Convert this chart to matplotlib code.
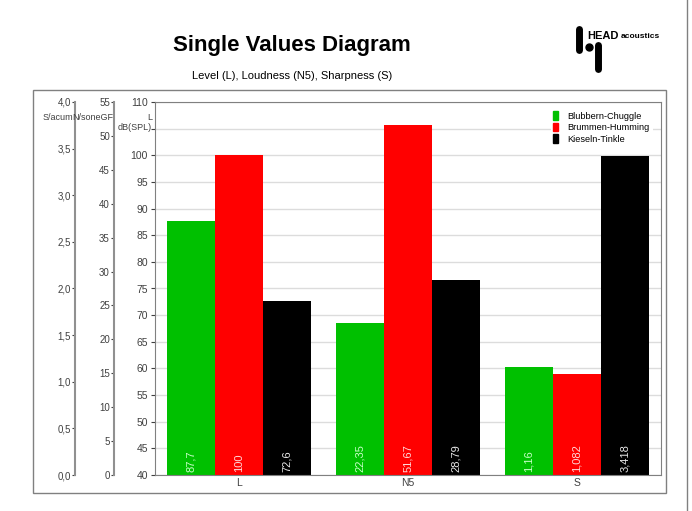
import numpy as np
import matplotlib
matplotlib.use('Agg')
import matplotlib.pyplot as plt
from matplotlib.lines import Line2D
from matplotlib.patches import Rectangle, Patch

plt.rcParams['font.family'] = ['Liberation Sans', 'DejaVu Sans']

# データ
categories = ['L', 'N5', 'S']
series_names = ['Blubbern-Chuggle', 'Brummen-Humming', 'Kieseln-Tinkle']
level_db = [87.7, 100, 72.6]          # dB(SPL)
loudness_sone = [22.35, 51.67, 28.79]  # sone
sharpness_acum = [1.16, 1.082, 3.418]  # acum
series_colors = ['#00c000', '#ff0000', '#000000']
label_colors = ['#c8ffc8', '#ffd8d8', '#e8e8e8']

# 軸範囲
db_range = (40, 110)
sone_max = 55
acum_max = 4.0

W, H = 692, 511
fig = plt.figure(figsize=(W / 100, H / 100), dpi=100)

def fx(px):
    return px / W

def fy(py):
    return 1 - py / H

# 外枠
fig.add_artist(Rectangle((fx(33), fy(493)), fx(666) - fx(33), fy(90) - fy(493),
                         transform=fig.transFigure, fill=False, edgecolor='#808080', lw=1))
fig.add_artist(Line2D([fx(687), fx(687)], [0, 1], transform=fig.transFigure,
                      color='#808080', lw=1))

# メイン軸
left, right, top, bottom = 155, 661, 102, 475
ax = fig.add_axes([fx(left), fy(bottom), fx(right) - fx(left), fy(top) - fy(bottom)])

def to_db(v, vmax):
    return db_range[0] + v / vmax * (db_range[1] - db_range[0])

heights = np.array([
    level_db,
    [to_db(v, sone_max) for v in loudness_sone],
    [to_db(v, acum_max) for v in sharpness_acum],
])
raw = [level_db, loudness_sone, sharpness_acum]

x = np.arange(len(categories))
width = 0.285
for j, name in enumerate(series_names):
    xs = x + (j - 1) * width
    ax.bar(xs, heights[:, j] - db_range[0], bottom=db_range[0], width=width,
           color=series_colors[j], label=name, zorder=3)
    for i in range(len(categories)):
        txt = f'{raw[i][j]:g}'.replace('.', ',')
        ax.text(xs[i], db_range[0] + 0.5, txt, rotation=90, ha='center', va='bottom',
                fontsize=8, color=label_colors[j], zorder=4)

ax.set_xlim(-0.5, 2.5)
ax.set_ylim(*db_range)
ax.set_xticks(x)
ax.set_xticklabels(categories)
db_ticks = np.arange(40, 111, 5)
ax.set_yticks(db_ticks)
# 105 の位置には単位が入る
ax.set_yticklabels(['' if t == 105 else f'{t}' for t in db_ticks])
ax.grid(axis='y', color='#dcdcdc', lw=1, zorder=0)
ax.tick_params(axis='both', labelsize=7.5, colors='#404040', length=3, pad=2)
ax.tick_params(axis='x', length=0, pad=2)
for s in ax.spines.values():
    s.set_color('#808080')
    s.set_zorder(6)

# 追加の縦軸 (sone, acum)
def extra_axis(px, vmax, ticks, fmt):
    a = ax.twinx()
    a.set_ylim(0, vmax)
    a.spines['left'].set_position(('axes', (px - left) / (right - left)))
    a.spines['left'].set_visible(True)
    a.spines['left'].set_color('#909090')
    a.spines['left'].set_linewidth(1.5)
    for k in ['right', 'top', 'bottom']:
        a.spines[k].set_visible(False)
    a.yaxis.set_ticks_position('left')
    a.yaxis.set_label_position('left')
    a.set_yticks(ticks)
    a.set_yticklabels([fmt(t) for t in ticks])
    a.tick_params(axis='y', labelsize=7, colors='#404040', length=2, pad=1)
    return a

extra_axis(114, sone_max, np.arange(0, 56, 5), lambda t: f'{t:g}')
extra_axis(75, acum_max, np.arange(0, 4.01, 0.5), lambda t: f'{t:.1f}'.replace('.', ','))

# 単位
unit_kw = dict(fontsize=6.5, color='#404040', ha='right', va='center')
fig.text(fx(73), fy(117), 'S/acum', **unit_kw)
fig.text(fx(113), fy(117), 'N/soneGF', **unit_kw)
fig.text(fx(152), fy(117), 'L', **unit_kw)
fig.text(fx(152), fy(127), 'dB(SPL)', **unit_kw)

# 凡例
handles = [Patch(facecolor=c, edgecolor=c) for c in series_colors]
leg = ax.legend(handles, series_names, loc='upper left',
                bbox_to_anchor=(fx(546), fy(104)), bbox_transform=fig.transFigure,
                fontsize=6.6, frameon=True, fancybox=False, framealpha=1,
                handlelength=0.55, handleheight=1.1, handletextpad=1.0,
                labelspacing=0.2, borderpad=0.3)
leg.get_frame().set_edgecolor('white')
leg.get_frame().set_linewidth(0)

# タイトル
fig.text(fx(292), fy(46), 'Single Values Diagram', fontsize=16, fontweight='bold',
         ha='center', va='center')
fig.text(fx(292), fy(76), 'Level (L), Loudness (N5), Sharpness (S)', fontsize=8,
         ha='center', va='center')

# ロゴ
fig.add_artist(Line2D([fx(579), fx(579)], [fy(29), fy(50)], transform=fig.transFigure,
                      color='black', lw=5, solid_capstyle='round'))
fig.add_artist(Line2D([fx(598), fx(598)], [fy(45), fy(69)], transform=fig.transFigure,
                      color='black', lw=5, solid_capstyle='round'))
fig.add_artist(Line2D([fx(589)], [fy(47)], transform=fig.transFigure, marker='o',
                      markersize=5, color='black', ls=''))
fig.text(fx(587), fy(36), 'HEAD', fontsize=8, fontweight='bold', ha='left', va='center')
fig.text(fx(621), fy(37), 'acoustics', fontsize=6, fontweight='bold', ha='left', va='center')

fig.savefig('out.png', dpi=100)
